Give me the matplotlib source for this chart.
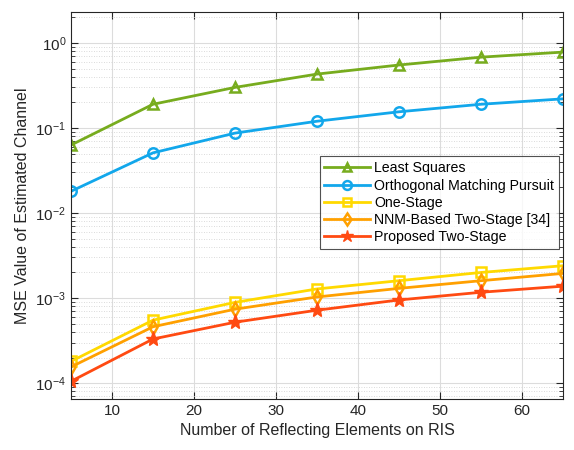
import matplotlib
matplotlib.use("Agg")
import matplotlib.pyplot as plt
import numpy as np

plt.rcParams.update({
    "font.family": ["Liberation Sans", "DejaVu Sans"],
    "font.size": 10,
    "xtick.direction": "in",
    "ytick.direction": "in",
})

# ── Data ──────────────────────────────────────────────────────────────────────
n_elements = [5, 15, 25, 35, 45, 55, 65]
mse_ls = [0.063, 0.19, 0.30, 0.43, 0.55, 0.68, 0.78]
mse_omp = [0.018, 0.051, 0.087, 0.12, 0.155, 0.19, 0.22]
mse_one = [1.8e-4, 5.5e-4, 8.9e-4, 1.28e-3, 1.6e-3, 2.0e-3, 2.4e-3]
mse_nnm = [1.55e-4, 4.6e-4, 7.4e-4, 1.03e-3, 1.3e-3, 1.6e-3, 1.95e-3]
mse_prop = [1.05e-4, 3.3e-4, 5.2e-4, 7.2e-4, 9.5e-4, 1.17e-3, 1.38e-3]

labels = ["Least Squares", "Orthogonal Matching Pursuit", "One-Stage",
          "NNM-Based Two-Stage [34]", "Proposed Two-Stage"]
colors = ["#77AC1E", "#12A7EB", "#FFD900", "#FFA000", "#FF4A12"]
markers = ["^", "o", "s", "d", "*"]

# ── Figure ────────────────────────────────────────────────────────────────────
fig = plt.figure(figsize=(5.74, 4.5), dpi=100)
ax = fig.add_axes([0.1237, 0.1133, 0.8573, 0.8597])

series = [mse_ls, mse_omp, mse_one, mse_nnm, mse_prop]
for ys, lab, c, m in zip(series, labels, colors, markers):
    if m == "*":
        ax.plot(n_elements, ys, color=c, marker=m, ms=11, lw=2,
                mfc=c, mec=c, label=lab)
    else:
        ax.plot(n_elements, ys, color=c, marker=m, ms=7.5, lw=2,
                mfc="none", mec=c, mew=1.8, label=lab)

ax.set_yscale("log")
ax.set_xlim(5, 65)
ax.set_ylim(6.5e-5, 2.3)
ax.set_xticks([10, 20, 30, 40, 50, 60])
ax.set_yticks([1e-4, 1e-3, 1e-2, 1e-1, 1e0])

ax.grid(True, which="major", color="#dcdcdc", lw=0.8)
ax.grid(True, which="minor", axis="y", color="#cfcfcf", lw=0.6, ls=(0, (1, 2)))
ax.set_axisbelow(True)
ax.tick_params(which="both", top=True, right=True, colors="#262626",
               labelsize=11)
ax.tick_params(which="major", length=5)
ax.tick_params(which="minor", length=3)
for s in ax.spines.values():
    s.set_color("#262626")
    s.set_linewidth(0.8)

ax.set_xlabel("Number of Reflecting Elements on RIS", fontsize=11.5, color="#262626")
ax.set_ylabel("MSE Value of Estimated Channel", fontsize=11.5, color="#262626")

leg = ax.legend(loc="upper left", bbox_to_anchor=(0.505, 0.627), fontsize=10.2,
                frameon=True, fancybox=False, edgecolor="#262626",
                handlelength=3.2, borderpad=0.35, labelspacing=0.22,
                handletextpad=0.3, borderaxespad=0, markerscale=0.85)
leg.get_frame().set_linewidth(0.8)

fig.savefig("out.png", dpi=100)
